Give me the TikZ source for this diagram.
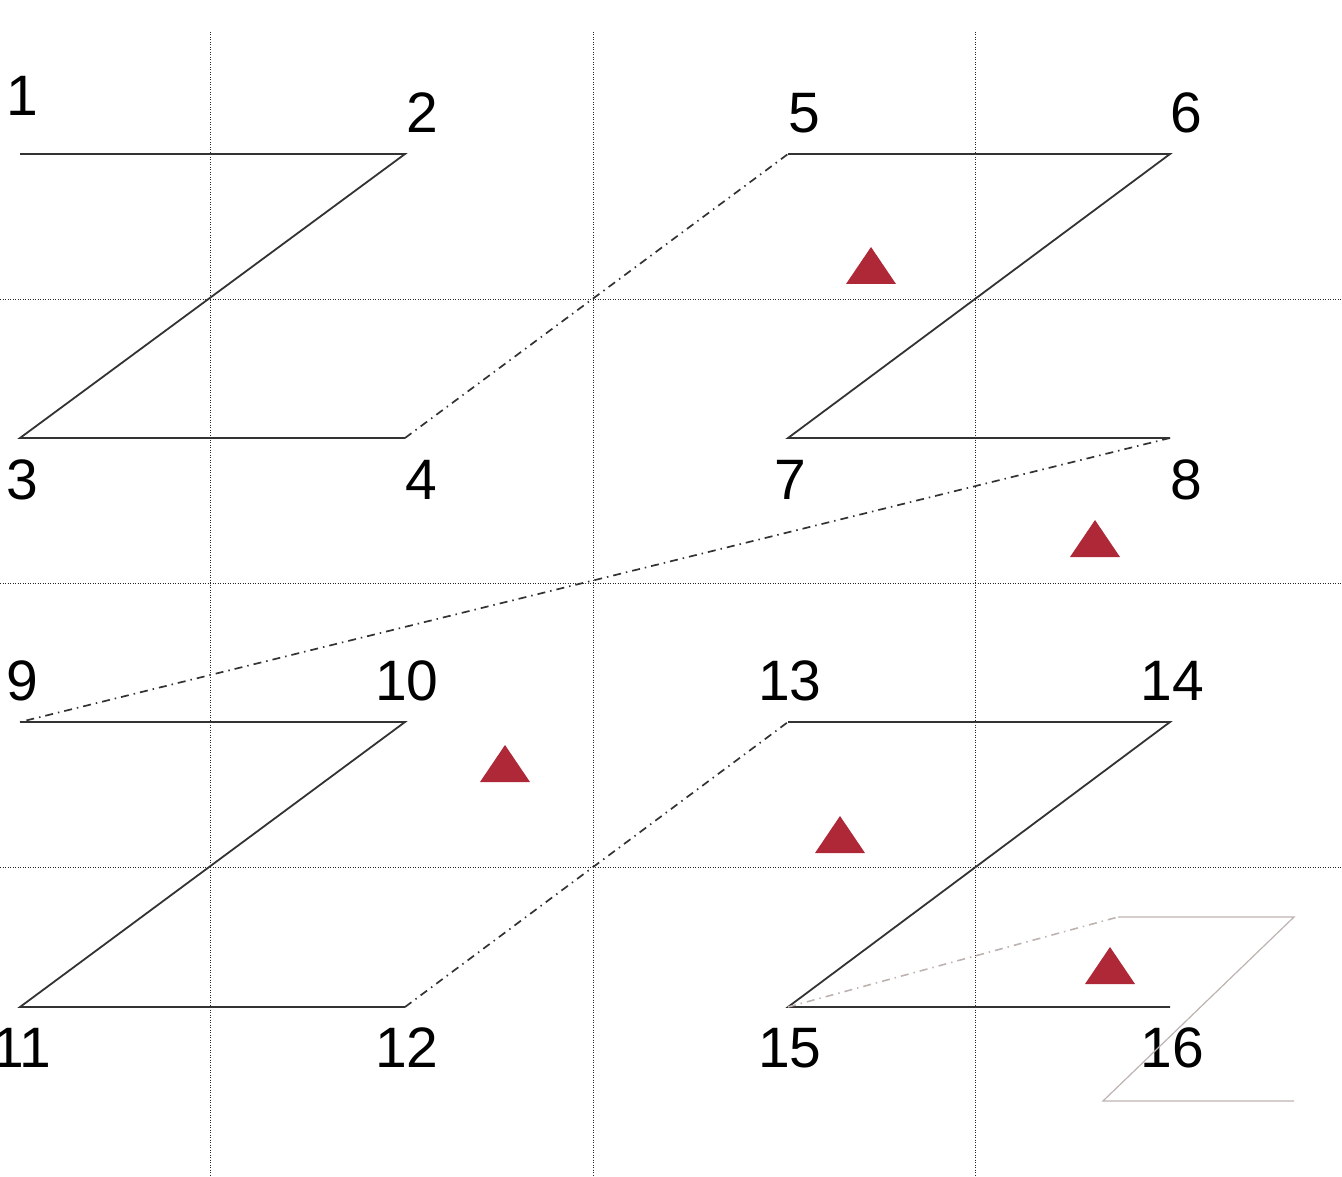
\documentclass[tikz,border=0pt]{standalone}
\usepackage{fontspec}
\setmainfont{Liberation Sans}
\definecolor{linegray}{HTML}{333333}
\definecolor{ghost}{HTML}{BDB3B0}
\definecolor{trired}{HTML}{AE2838}
\begin{document}
\begin{tikzpicture}[x=1pt,y=-1pt,
  gridline/.style={draw=black!85, line width=1pt, dash pattern=on 1pt off 1.5pt},
  seg/.style={draw=linegray, line width=1.8pt},
  jump/.style={draw=linegray, line width=1.7pt, dash pattern=on 8pt off 5pt on 1.5pt off 5pt},
  ghostseg/.style={draw=ghost, line width=1.2pt},
  ghostjump/.style={draw=ghost, line width=1.6pt, dash pattern=on 8pt off 5pt on 1.5pt off 5pt},
  lbl/.style={font=\fontsize{57}{60}\selectfont, inner sep=0pt, anchor=center},
  tri/.style={fill=trired}]
\useasboundingbox (0,0) rectangle (1342,1177);
% grid
\foreach \gx/\nm in {210/va,593/vb,975/vc}{
  \coordinate (\nm-t) at (\gx,32); \coordinate (\nm-b) at (\gx,1177);
  \draw[gridline] (\nm-t) -- (\nm-b);}
\foreach \gy/\nm in {299/ha,583/hb,867/hc}{
  \coordinate (\nm-l) at (0,\gy); \coordinate (\nm-r) at (1342,\gy);
  \draw[gridline] (\nm-l) -- (\nm-r);}
% points
\coordinate (p1) at (20,154);   \coordinate (p2) at (405,154);
\coordinate (p3) at (20,438);   \coordinate (p4) at (405,438);
\coordinate (p5) at (788,154);  \coordinate (p6) at (1170,154);
\coordinate (p7) at (788,438);  \coordinate (p8) at (1170,438);
\coordinate (p9) at (20,722);   \coordinate (p10) at (405,722);
\coordinate (p11) at (20,1007); \coordinate (p12) at (405,1007);
\coordinate (p13) at (788,722); \coordinate (p14) at (1170,722);
\coordinate (p15) at (788,1007);\coordinate (p16) at (1170,1007);
\coordinate (g1) at (1118,917); \coordinate (g2) at (1294,917);
\coordinate (g3) at (1103,1101);\coordinate (g4) at (1294,1101);
% labels
\node[lbl] (l1) at (22,96) {1};
\node[lbl] (l2) at (422,113) {2};
\node[lbl] (l3) at (22,480) {3};
\node[lbl] (l4) at (421,480) {4};
\node[lbl] (l5) at (804,113) {5};
\node[lbl] (l6) at (1186,113) {6};
\node[lbl] (l7) at (790,480) {7};
\node[lbl] (l8) at (1186,480) {8};
\node[lbl] (l9) at (22,681) {9};
\node[lbl] (l10) at (407,681) {10};
\node[lbl] (l11) at (22,1048) {11};
\node[lbl] (l12) at (407,1048) {12};
\node[lbl] (l13) at (790,681) {13};
\node[lbl] (l14) at (1172,681) {14};
\node[lbl] (l15) at (790,1048) {15};
\node[lbl] (l16) at (1172,1048) {16};
% segments
\draw[seg] (p1) -- (p2) -- (p3) -- (p4);
\draw[jump] (p4) -- (p5);
\draw[seg] (p5) -- (p6) -- (p7) -- (p8);
\draw[jump] (p8) -- (p9);
\draw[seg] (p9) -- (p10) -- (p11) -- (p12);
\draw[jump] (p12) -- (p13);
\draw[seg] (p13) -- (p14) -- (p15) -- (p16);
\draw[ghostjump] (p15) -- (g1);
\draw[ghostseg] (g1) -- (g2) -- (g3) -- (g4);
% triangles
\foreach \tx/\ty in {871/284, 1095/557, 505/782, 840/853, 1110/984}{
  \fill[tri] (\tx,\ty) ++(-25,0) -- ++(50,0) -- ++(-25,-37) -- cycle;}
\end{tikzpicture}
\end{document}
